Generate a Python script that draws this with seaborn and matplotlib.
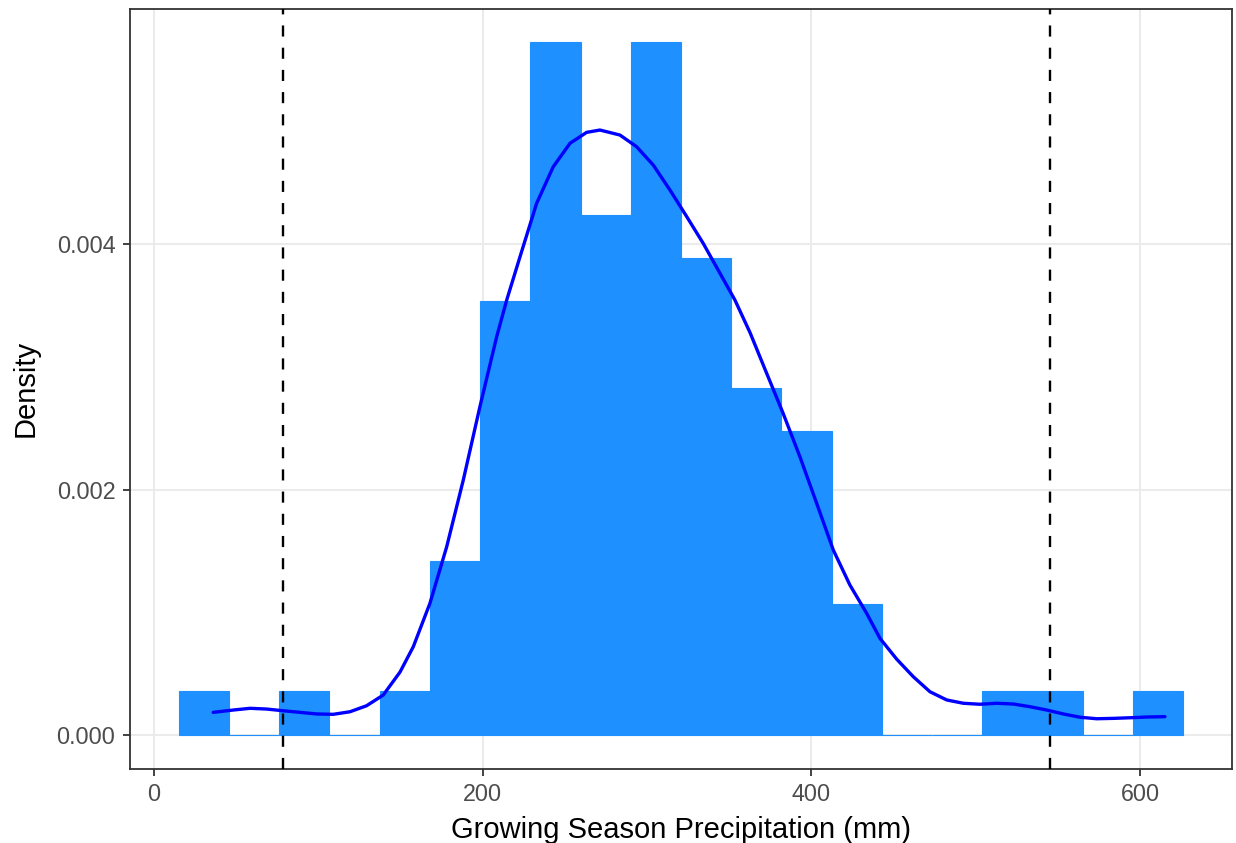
import numpy as np
import pandas as pd
import matplotlib
matplotlib.use("Agg")
import matplotlib.pyplot as plt
import seaborn as sns

# ---- data ----
bin_edges = [15.2, 45.8, 76.3, 106.9, 137.4, 168.0, 198.5, 229.1, 259.6, 290.2,
             320.7, 351.3, 381.8, 412.4, 442.9, 473.5, 504.0, 534.6, 565.1, 595.7, 626.2]
bin_density = [0.00036, 0.0, 0.00036, 0.0, 0.00036, 0.00142, 0.00354, 0.00565, 0.00424, 0.00565,
               0.00389, 0.00283, 0.00248, 0.00107, 0.0, 0.0, 0.00036, 0.00036, 0.0, 0.00036]

kde_x = [36.2, 48.4, 58.6, 68.7, 78.8, 89.0, 99.1, 109.2, 119.4, 129.5, 139.6, 149.8, 157.9,
         168.0, 178.2, 188.3, 198.4, 208.6, 214.7, 222.8, 232.9, 243.0, 253.2, 263.3, 271.4,
         283.6, 293.7, 303.8, 314.0, 324.2, 334.2, 344.4, 353.5, 362.7, 372.8, 382.9, 393.0,
         403.2, 413.3, 423.4, 433.6, 441.7, 451.9, 462.0, 472.1, 482.3, 492.4, 502.5, 512.7,
         522.8, 532.9, 543.1, 553.2, 563.5, 573.5, 583.6, 593.7, 603.9, 615.0]
kde_y = [0.000187, 0.000206, 0.000220, 0.000214, 0.000200, 0.000187, 0.000174, 0.000171,
         0.000192, 0.000241, 0.000328, 0.000515, 0.000722, 0.001075, 0.001536, 0.002080,
         0.002677, 0.003247, 0.003546, 0.003899, 0.004334, 0.004632, 0.004823, 0.004912,
         0.004931, 0.004890, 0.004795, 0.004646, 0.004442, 0.004225, 0.004008, 0.003764,
         0.003546, 0.003280, 0.002949, 0.002620, 0.002270, 0.001890, 0.001510, 0.001225,
         0.000994, 0.000790, 0.000620, 0.000477, 0.000355, 0.000288, 0.000261, 0.000253,
         0.000261, 0.000255, 0.000233, 0.000206, 0.000174, 0.000147, 0.000135, 0.000138,
         0.000143, 0.000149, 0.000152]

cutoffs = [78.6, 545.1]

x_ticks = [0, 200, 400, 600]
y_ticks = [0.000, 0.002, 0.004]
y_tick_labels = ["0.000", "0.002", "0.004"]

x_title = "Growing Season Precipitation (mm)"
y_title = "Density"

# ---- style ----
sns.set_theme(style="white")
plt.rcParams["font.family"] = ["Liberation Sans", "DejaVu Sans"]

fig = plt.figure(figsize=(12.36, 8.43), dpi=100)
W, H = 1236, 843
ax = fig.add_axes([130 / W, 1 - 768.7 / H, (1232 - 130) / W, (768.7 - 9) / H])

bin_mids = [(a + b) / 2 for a, b in zip(bin_edges[:-1], bin_edges[1:])]
hist_df = pd.DataFrame({"x": bin_mids, "w": bin_density})
sns.histplot(data=hist_df, x="x", weights="w", bins=bin_edges, stat="count",
             color="#1E90FF", edgecolor="#1E90FF", linewidth=0.8, alpha=1.0, ax=ax, zorder=2)

kde_df = pd.DataFrame({"x": kde_x, "y": kde_y})
sns.lineplot(data=kde_df, x="x", y="y", color="#0000FF", linewidth=2.4, ax=ax, zorder=3,
             solid_joinstyle="round", solid_capstyle="round")

for c in cutoffs:
    ax.axvline(c, color="black", linewidth=1.7, linestyle=(0, (4.7, 4.7)), zorder=4)

ax.set_xlim(-14.4, 655.8)
ax.set_ylim(-0.000272, 0.005917)
ax.set_xticks(x_ticks)
ax.set_xticklabels([str(t) for t in x_ticks])
ax.set_yticks(y_ticks)
ax.set_yticklabels(y_tick_labels)

ax.grid(True, color="#EBEBEB", linewidth=1.5, zorder=0)
ax.set_axisbelow(True)
for s in ax.spines.values():
    s.set_color("#333333")
    s.set_linewidth(1.3)
    s.set_visible(True)

ax.tick_params(axis="both", which="major", length=5, width=1.3, color="#333333",
               labelcolor="#4D4D4D", labelsize=16.8, pad=5.5,
               bottom=True, left=True)

ax.set_xlabel(x_title, fontsize=21, color="black", labelpad=7)
ax.set_ylabel(y_title, fontsize=21, color="black", labelpad=12)

fig.savefig("out.png", dpi=100, facecolor="white")
